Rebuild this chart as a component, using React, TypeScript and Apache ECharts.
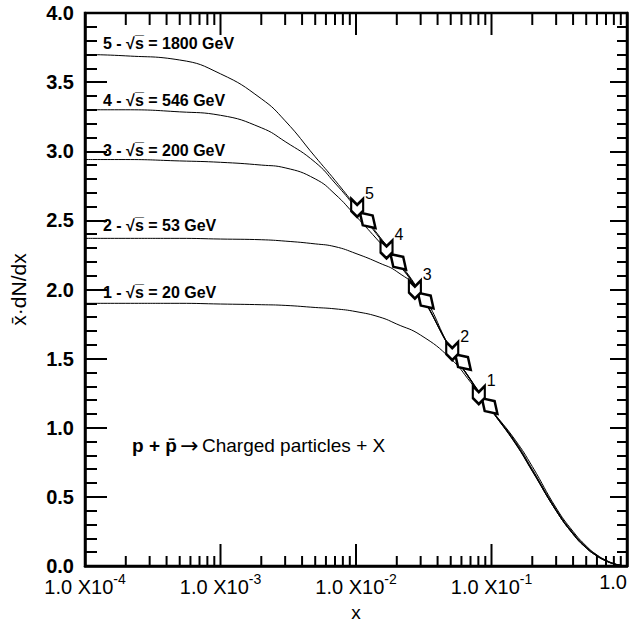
import React, { useEffect, useRef } from "react";
import * as echarts from "echarts";

const FONT = "'Liberation Sans', Arial, Helvetica, sans-serif";

// shared x grid (momentum fraction x)
const X_GRID = [1e-4, 2e-4, 5e-4, 1e-3, 2e-3, 3e-3, 5e-3, 7e-3, 0.01, 0.015, 0.02, 0.03, 0.05, 0.07, 0.1, 0.15, 0.2, 0.3, 0.4, 0.5, 0.6, 0.7, 0.8, 0.9, 1.0];

const CURVE_1 = [1.9, 1.9, 1.9, 1.895, 1.89, 1.885, 1.87, 1.86, 1.84, 1.8, 1.75, 1.67, 1.5, 1.33, 1.13, 0.91, 0.72, 0.42, 0.25, 0.145, 0.08, 0.042, 0.018, 0.005, 0];
const CURVE_2 = [2.37, 2.37, 2.37, 2.365, 2.36, 2.35, 2.33, 2.31, 2.26, 2.19, 2.13, 1.98, 1.57, 1.35, 1.13, 0.9, 0.7, 0.41, 0.24, 0.14, 0.078, 0.04, 0.017, 0.005, 0];
const CURVE_3 = [2.94, 2.94, 2.93, 2.92, 2.9, 2.88, 2.8, 2.69, 2.53, 2.34, 2.2, 1.96, 1.565, 1.345, 1.125, 0.89, 0.69, 0.4, 0.235, 0.135, 0.075, 0.038, 0.016, 0.005, 0];
const CURVE_4 = [3.3, 3.3, 3.285, 3.26, 3.17, 3.07, 2.92, 2.77, 2.59, 2.37, 2.21, 1.965, 1.565, 1.345, 1.125, 0.885, 0.685, 0.4, 0.23, 0.13, 0.072, 0.036, 0.015, 0.004, 0];
const CURVE_5 = [3.7, 3.69, 3.66, 3.56, 3.38, 3.22, 2.96, 2.79, 2.6, 2.38, 2.22, 1.97, 1.57, 1.35, 1.13, 0.89, 0.69, 0.4, 0.23, 0.13, 0.072, 0.036, 0.015, 0.004, 0];
const CURVES = [CURVE_1, CURVE_2, CURVE_3, CURVE_4, CURVE_5];

const CURVE_LABELS = [
  "1 - \u221As\u0305 = 20 GeV",
  "2 - \u221As\u0305 = 53 GeV",
  "3 - \u221As\u0305 = 200 GeV",
  "4 - \u221As\u0305 = 546 GeV",
  "5 - \u221As\u0305 = 1800 GeV",
];

// measured points: two marker kinds per energy
const MARKER_A_X = [0.0806, 0.0513, 0.0272, 0.0168, 0.0102];
const MARKER_A_Y = [1.237, 1.555, 2.0, 2.29, 2.59];
const MARKER_B_X = [0.0969, 0.0616, 0.0327, 0.0205, 0.0122];
const MARKER_B_Y = [1.157, 1.475, 1.92, 2.2, 2.5];
const MARKER_LABELS = ["1", "2", "3", "4", "5"];

// x-axis tick positions
const DECADES = [1e-4, 1e-3, 1e-2, 1e-1, 1];
const MANTISSAS = [2, 3, 4, 5, 6, 7, 8, 9];
const X_MIN = 1e-4;
const X_MAX = 1;
const Y_MIN = 0;
const Y_MAX = 4;

export default function App() {
  const ref = useRef<HTMLDivElement>(null);
  useEffect(() => {
    const chart = echarts.init(ref.current!, null, { renderer: "svg" });
    // [x, bottom length, top length]
    const xTicks: number[][] = [];
    DECADES.forEach((d, i) => {
      xTicks.push([d, 22, 22]);
      if (i < DECADES.length - 1) MANTISSAS.forEach((m) => xTicks.push([d * m, 10, 12]));
    });

    const curveSeries = CURVES.map((ys, i) => ({
      type: "line",
      name: CURVE_LABELS[i],
      data: X_GRID.map((x, j) => [x, ys[j]]),
      symbol: "none",
      smooth: 0.5,
      lineStyle: { color: "#000", width: 1 },
      z: 3,
      silent: true,
    }));

    const axisLineStyle = { color: "#000", width: 2.5 };
    const tickStyle = { color: "#000", width: 2 };

    chart.setOption({
      animation: false,
      backgroundColor: "#fff",
      grid: {
        left: 77,
        top: 13,
        right: 4,
        bottom: 77,
        containLabel: false,
        show: true,
        borderColor: "#000",
        borderWidth: 2.5,
        backgroundColor: "transparent",
      },
      xAxis: {
        type: "log",
        logBase: 10,
        min: X_MIN,
        max: X_MAX,
        splitNumber: 4,
        position: "bottom",
        axisLine: { show: true, lineStyle: axisLineStyle },
        axisTick: { show: false },
        splitLine: { show: false },
        axisLabel: {
          margin: 6,
          color: "#000",
          fontFamily: FONT,
          alignMaxLabel: "right",
          formatter: (v: number) => {
            const e = Math.round(Math.log10(v));
            if (e === 0) return "{m|1.0}";
            return "{m|1.0 X10}{e|" + e + "}";
          },
          rich: {
            m: { fontSize: 20, fontFamily: FONT, color: "#000", verticalAlign: "bottom" },
            e: { fontSize: 14, fontFamily: FONT, color: "#000", padding: [0, 0, 11, 0], verticalAlign: "bottom" },
          },
        },
        name: "x",
        nameLocation: "middle",
        nameGap: 37,
        nameTextStyle: { fontSize: 19, fontFamily: FONT, color: "#000" },
      },
      yAxis: [
        {
          type: "value",
          min: Y_MIN,
          max: Y_MAX,
          interval: 0.5,
          position: "left",
          axisLine: { show: true, lineStyle: axisLineStyle },
          axisTick: { show: true, inside: true, length: 22, lineStyle: tickStyle },
          minorTick: { show: true, splitNumber: 5, length: 12, lineStyle: tickStyle },
          splitLine: { show: false },
          axisLabel: {
            margin: 11,
            fontSize: 20,
            fontWeight: "bold",
            fontFamily: FONT,
            color: "#000",
            formatter: (v: number) => v.toFixed(1),
          },
          name: "x\u0304\u00B7dN/dx",
          nameLocation: "middle",
          nameGap: 56,
          nameRotate: 90,
          nameTextStyle: { fontSize: 21, fontFamily: FONT, color: "#000" },
        },
        {
          type: "value",
          min: Y_MIN,
          max: Y_MAX,
          interval: 0.5,
          position: "right",
          axisLine: { show: true, lineStyle: axisLineStyle },
          axisTick: { show: true, inside: true, length: 17, lineStyle: tickStyle },
          minorTick: { show: true, splitNumber: 5, length: 10, lineStyle: tickStyle },
          splitLine: { show: false },
          axisLabel: { show: false },
        },
      ],
      series: [
        ...curveSeries,
        {
          type: "custom",
          silent: true,
          clip: false,
          z: 100,
          data: xTicks,
          encode: { x: 0 },
          renderItem: (_p: any, api: any) => {
            const x = api.value(0);
            const b = api.coord([x, Y_MIN]);
            const t = api.coord([x, Y_MAX]);
            const lb = api.value(1);
            const lt = api.value(2);
            return {
              type: "group",
              children: [
                { type: "rect", shape: { x: b[0] - 1, y: b[1] - lb, width: 2, height: lb }, style: { fill: "#000" } },
                { type: "rect", shape: { x: t[0] - 1, y: t[1], width: 2, height: lt }, style: { fill: "#000" } },
              ],
            };
          },
        },
        {
          type: "scatter",
          silent: true,
          z: 5,
          data: MARKER_A_X.map((x, i) => [x, MARKER_A_Y[i]]),
          symbol: "path://M0,0 L5,5 L10,0 L10,10 L5,15 L0,10 Z",
          symbolSize: [12, 18],
          itemStyle: { color: "#fff", borderColor: "#000", borderWidth: 2.6, opacity: 1 },
          label: {
            show: true,
            position: [15, -12],
            formatter: (p: any) => MARKER_LABELS[p.dataIndex],
            fontSize: 16,
            fontFamily: FONT,
            color: "#000",
            textBorderWidth: 0,
          },
        },
        {
          type: "scatter",
          silent: true,
          z: 4,
          data: MARKER_B_X.map((x, i) => [x, MARKER_B_Y[i]]),
          symbol: "diamond",
          symbolSize: [14, 22],
          symbolRotate: 45,
          itemStyle: { color: "#fff", borderColor: "#000", borderWidth: 2.6, opacity: 1 },
        },
      ],
      graphic: [
        ...[
          { t: CURVE_LABELS[4], y: 43 },
          { t: CURVE_LABELS[3], y: 100 },
          { t: CURVE_LABELS[2], y: 150 },
          { t: CURVE_LABELS[1], y: 225 },
          { t: CURVE_LABELS[0], y: 292 },
        ].map((o) => ({
          type: "text",
          x: 103,
          y: o.y,
          style: {
            text: o.t,
            fontSize: 16,
            fontWeight: "bold",
            fontFamily: FONT,
            fill: "#000",
            verticalAlign: "middle",
          },
        })),
        {
          type: "text",
          x: 132,
          y: 445,
          style: {
            text: "{b|p + p\u0304} {a|\u2192} {n|Charged particles + X}",
            verticalAlign: "middle",
            rich: {
              b: { fontSize: 19, fontWeight: "bold", fontFamily: FONT, fill: "#000" },
              a: { fontSize: 22, fontFamily: "'DejaVu Sans'", fill: "#000" },
              n: { fontSize: 19, fontFamily: FONT, fill: "#000" },
            },
          },
        },
      ],
    });
    return () => chart.dispose();
  }, []);
  return (
    <div
      ref={ref}
      style={{ position: "absolute", left: 0, top: 0, width: 631, height: 643, background: "#fff" }}
    />
  );
}
